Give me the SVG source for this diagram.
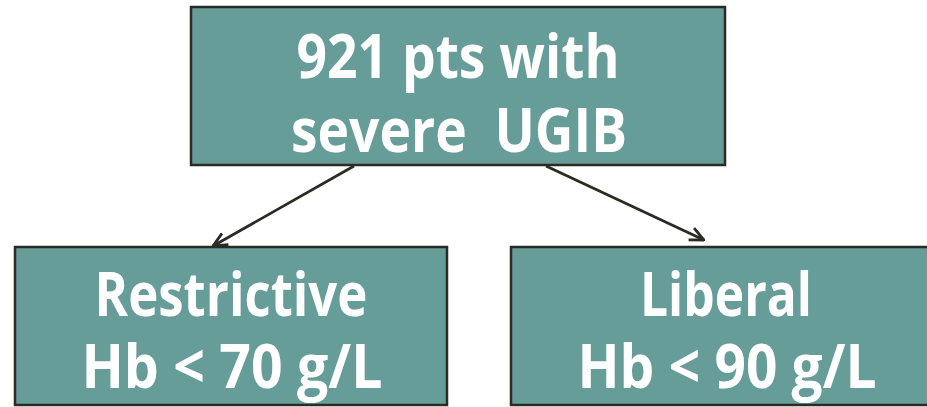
<svg xmlns="http://www.w3.org/2000/svg" width="927" height="407" viewBox="0 0 927 407">
<defs>
<style>
.box{fill:#669d99;stroke:#2b2b25;stroke-width:2.5}
.t{fill:#ffffff;font-family:"Open Sans","Liberation Sans",sans-serif;font-weight:700;font-size:60px;text-anchor:middle;white-space:pre}
.c{stroke:#2b2b25;stroke-width:2.8;fill:none}
</style>
<marker id="arr" viewBox="0 0 16 16" refX="15" refY="8" markerWidth="16" markerHeight="16" markerUnits="userSpaceOnUse" orient="auto">
<polyline points="1,1.5 15,8 1,14.5" fill="none" stroke="#2b2b25" stroke-width="2.8"/>
</marker>
</defs>
<rect width="927" height="407" fill="#ffffff"/>
<g id="top">
<rect class="box" x="191" y="7" width="534" height="158"/>
<text class="t" x="458" y="78" textLength="323" lengthAdjust="spacingAndGlyphs">921 pts with</text>
<text class="t" x="459" y="152" textLength="336" lengthAdjust="spacingAndGlyphs" xml:space="preserve">severe  UGIB</text>
</g>
<g id="restrictive">
<rect class="box" x="15" y="247" width="432" height="158"/>
<text class="t" x="231" y="316" textLength="273" lengthAdjust="spacingAndGlyphs">Restrictive</text>
<text class="t" x="232" y="388" textLength="301" lengthAdjust="spacingAndGlyphs">Hb &lt; 70 g/L</text>
</g>
<g id="liberal">
<rect class="box" x="511" y="247" width="432" height="158"/>
<text class="t" x="726" y="316" textLength="172" lengthAdjust="spacingAndGlyphs">Liberal</text>
<text class="t" x="727" y="388" textLength="299" lengthAdjust="spacingAndGlyphs">Hb &lt; 90 g/L</text>
</g>
<g id="connectors">
<line class="c" x1="354" y1="166" x2="213" y2="246" marker-end="url(#arr)"/>
<line class="c" x1="546" y1="166" x2="704" y2="240" marker-end="url(#arr)"/>
</g>
</svg>
